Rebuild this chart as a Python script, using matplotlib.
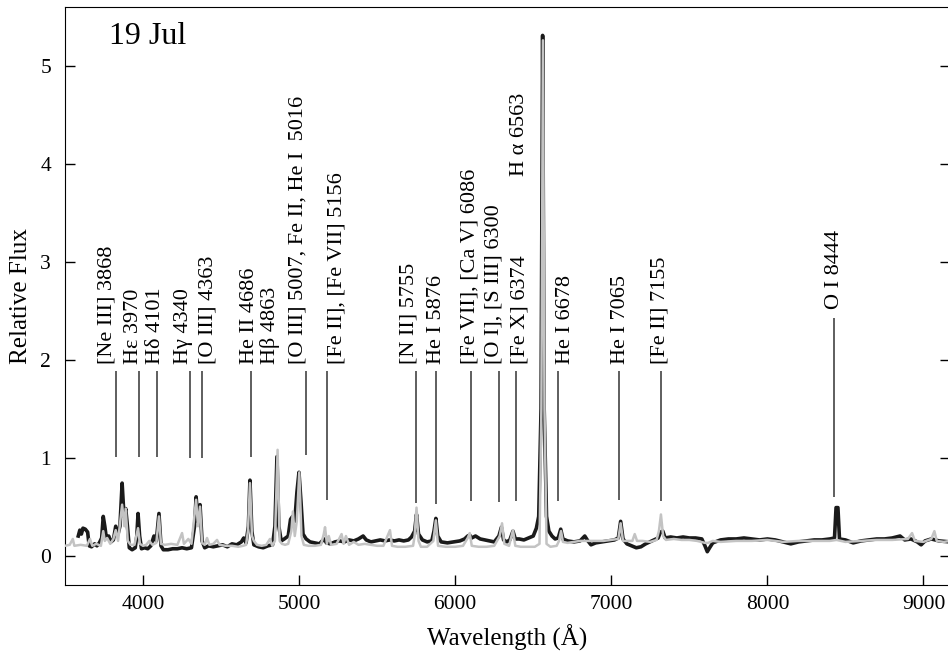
import numpy as np
from matplotlib import pyplot as plt

plt.rcParams['font.family'] = ['Liberation Serif', 'DejaVu Serif']

# black spectrum (wavelength in A, relative flux)
wl_black = [3585, 3595, 3605, 3615, 3630, 3645, 3655, 3670, 3690, 3705, 3720, 3735, 3745, 3755,
            3765, 3780, 3795, 3810, 3825, 3840, 3852, 3866, 3878, 3889, 3900, 3912, 3930, 3950,
            3960, 3968, 3978, 3990, 4010, 4030, 4050, 4070, 4085, 4102, 4115, 4130, 4160, 4190,
            4220, 4250, 4280, 4310, 4330, 4340, 4352, 4365, 4378, 4395, 4420, 4450, 4480, 4510,
            4540, 4570, 4600, 4630, 4645, 4660, 4675, 4685, 4697, 4710, 4740, 4770, 4800, 4830,
            4845, 4858, 4870, 4885, 4905, 4930, 4945, 4958, 4972, 4986, 4999, 5012, 5025, 5045,
            5070, 5100, 5130, 5160, 5175, 5200, 5230, 5260, 5290, 5320, 5350, 5380, 5410, 5430,
            5460, 5490, 5520, 5550, 5580, 5610, 5640, 5670, 5700, 5720, 5740, 5752, 5765, 5790,
            5820, 5850, 5864, 5876, 5888, 5910, 5950, 5990, 6030, 6060, 6080, 6093, 6105, 6130,
            6160, 6190, 6220, 6250, 6280, 6296, 6310, 6330, 6350, 6370, 6385, 6410, 6440, 6470,
            6500, 6520, 6535, 6550, 6560, 6570, 6585, 6600, 6620, 6640, 6660, 6676, 6690, 6720,
            6760, 6800, 6830, 6850, 6870, 6900, 6940, 6980, 7020, 7045, 7060, 7075, 7100, 7130,
            7160, 7190, 7220, 7260, 7300, 7315, 7330, 7345, 7380, 7420, 7460, 7500, 7540, 7580,
            7600, 7615, 7630, 7650, 7700, 7750, 7800, 7850, 7900, 7950, 8000, 8050, 8100, 8150,
            8200, 8250, 8300, 8350, 8400, 8430, 8440, 8452, 8462, 8500, 8550, 8600, 8650, 8700,
            8750, 8800, 8850, 8880, 8920, 8960, 8985, 9010, 9050, 9100, 9170]
flux_black = [0.20, 0.26, 0.22, 0.28, 0.27, 0.24, 0.10, 0.09, 0.12, 0.10, 0.13, 0.18, 0.40, 0.30,
              0.18, 0.20, 0.14, 0.16, 0.30, 0.22, 0.30, 0.74, 0.40, 0.48, 0.30, 0.08, 0.06, 0.08,
              0.20, 0.43, 0.20, 0.07, 0.08, 0.07, 0.10, 0.20, 0.15, 0.43, 0.10, 0.06, 0.06, 0.07,
              0.07, 0.08, 0.07, 0.08, 0.30, 0.60, 0.35, 0.52, 0.15, 0.08, 0.10, 0.09, 0.10, 0.11,
              0.09, 0.12, 0.11, 0.14, 0.18, 0.13, 0.30, 0.77, 0.25, 0.11, 0.09, 0.08, 0.10, 0.11,
              0.30, 1.01, 0.30, 0.15, 0.17, 0.20, 0.37, 0.40, 0.35, 0.65, 0.85, 0.55, 0.22, 0.17,
              0.14, 0.13, 0.12, 0.17, 0.13, 0.12, 0.14, 0.15, 0.14, 0.16, 0.15, 0.17, 0.20, 0.16,
              0.14, 0.15, 0.16, 0.15, 0.16, 0.15, 0.16, 0.15, 0.16, 0.19, 0.25, 0.42, 0.22, 0.16,
              0.14, 0.15, 0.25, 0.38, 0.20, 0.14, 0.13, 0.14, 0.15, 0.17, 0.20, 0.21, 0.18, 0.20,
              0.17, 0.16, 0.15, 0.14, 0.20, 0.29, 0.16, 0.14, 0.16, 0.25, 0.17, 0.17, 0.16, 0.18,
              0.20, 0.28, 0.40, 1.50, 5.31, 1.50, 0.40, 0.25, 0.20, 0.17, 0.18, 0.27, 0.17, 0.15,
              0.14, 0.15, 0.20, 0.15, 0.11, 0.13, 0.14, 0.15, 0.16, 0.18, 0.35, 0.17, 0.12, 0.10,
              0.08, 0.09, 0.12, 0.15, 0.18, 0.24, 0.25, 0.18, 0.19, 0.18, 0.19, 0.18, 0.18, 0.17,
              0.10, 0.04, 0.08, 0.13, 0.16, 0.17, 0.17, 0.18, 0.17, 0.16, 0.17, 0.16, 0.14, 0.12,
              0.14, 0.15, 0.16, 0.16, 0.17, 0.18, 0.49, 0.49, 0.17, 0.16, 0.13, 0.15, 0.16, 0.17,
              0.17, 0.18, 0.20, 0.16, 0.17, 0.14, 0.11, 0.15, 0.17, 0.15, 0.14]

# grey spectrum
wl_grey = [3500, 3530, 3550, 3560, 3600, 3640, 3660, 3675, 3700, 3730, 3745, 3755, 3770, 3790,
           3810, 3825, 3840, 3866, 3880, 3889, 3902, 3920, 3945, 3968, 3980, 4000, 4020, 4040,
           4060, 4085, 4102, 4115, 4140, 4180, 4220, 4250, 4262, 4290, 4310, 4340, 4352, 4365,
           4378, 4395, 4410, 4425, 4450, 4474, 4490, 4530, 4570, 4610, 4640, 4660, 4672, 4685,
           4698, 4710, 4730, 4760, 4790, 4813, 4828, 4845, 4862, 4875, 4890, 4910, 4930, 4950,
           4960, 4972, 4985, 5001, 5015, 5030, 5060, 5100, 5140, 5158, 5166, 5178, 5190, 5205,
           5240, 5272, 5285, 5300, 5320, 5350, 5380, 5420, 5460, 5500, 5540, 5582, 5595, 5630,
           5680, 5730, 5740, 5752, 5765, 5780, 5820, 5860, 5876, 5890, 5940, 6000, 6050, 6080,
           6093, 6106, 6150, 6200, 6250, 6285, 6300, 6315, 6345, 6370, 6385, 6420, 6470, 6510,
           6540, 6552, 6562, 6572, 6585, 6610, 6650, 6665, 6678, 6690, 6720, 6760, 6800, 6850,
           6900, 6950, 7000, 7045, 7060, 7075, 7100, 7135, 7150, 7165, 7200, 7250, 7290, 7305,
           7318, 7332, 7350, 7400, 7450, 7500, 7550, 7600, 7620, 7650, 7700, 7800, 7900, 8000,
           8100, 8200, 8300, 8400, 8443, 8500, 8600, 8700, 8800, 8900, 8927, 8945, 9000, 9050,
           9070, 9085, 9130, 9170]
flux_grey = [0.10, 0.11, 0.17, 0.10, 0.11, 0.10, 0.17, 0.10, 0.12, 0.10, 0.25, 0.15, 0.18, 0.12,
             0.17, 0.26, 0.15, 0.52, 0.30, 0.48, 0.15, 0.11, 0.11, 0.28, 0.12, 0.10, 0.11, 0.15,
             0.11, 0.13, 0.40, 0.12, 0.11, 0.12, 0.11, 0.23, 0.12, 0.17, 0.12, 0.57, 0.30, 0.50,
             0.13, 0.11, 0.18, 0.11, 0.12, 0.16, 0.11, 0.10, 0.10, 0.09, 0.10, 0.11, 0.25, 0.74,
             0.20, 0.15, 0.11, 0.10, 0.11, 0.17, 0.10, 0.15, 1.08, 0.15, 0.12, 0.11, 0.12, 0.25,
             0.45, 0.20, 0.35, 0.85, 0.20, 0.11, 0.10, 0.10, 0.11, 0.22, 0.29, 0.12, 0.20, 0.11,
             0.12, 0.22, 0.12, 0.20, 0.11, 0.14, 0.11, 0.12, 0.11, 0.10, 0.10, 0.26, 0.10, 0.09,
             0.09, 0.10, 0.20, 0.49, 0.15, 0.09, 0.09, 0.15, 0.36, 0.10, 0.09, 0.09, 0.10, 0.18,
             0.23, 0.10, 0.09, 0.09, 0.10, 0.20, 0.33, 0.12, 0.10, 0.26, 0.10, 0.09, 0.09, 0.09,
             0.12, 1.50, 5.26, 1.50, 0.12, 0.09, 0.10, 0.15, 0.25, 0.14, 0.13, 0.14, 0.15, 0.15,
             0.15, 0.15, 0.16, 0.17, 0.33, 0.15, 0.15, 0.15, 0.22, 0.15, 0.15, 0.14, 0.16, 0.25,
             0.42, 0.20, 0.16, 0.17, 0.16, 0.16, 0.15, 0.13, 0.13, 0.15, 0.14, 0.15, 0.15, 0.16,
             0.14, 0.15, 0.15, 0.15, 0.16, 0.14, 0.15, 0.16, 0.16, 0.17, 0.23, 0.15, 0.14, 0.17,
             0.25, 0.15, 0.14, 0.15]

# line identifications: label, label wavelength, label base
line_labels = ['[Ne III] 3868', 'H\u03b5 3970', 'H\u03b4 4101', 'H\u03b3 4340',
               '[O III] 4363', 'He II 4686', 'H\u03b2 4863',
               '[O III] 5007, Fe II, He I  5016', '[Fe II], [Fe VII] 5156',
               '[N II] 5755', 'He I 5876', '[Fe VII], [Ca V] 6086', '[O I], [S III] 6300',
               '[Fe X] 6374', 'H \u03b1 6563', 'He I 6678', 'He I 7065', '[Fe II] 7155',
               'O I 8444']
label_x = [3770, 3942, 4077, 4262, 4416, 4679, 4813, 4992, 5242, 5703, 5882, 6093, 6247,
           6414, 6414, 6708, 7060, 7310, 8430]
label_y = [1.96, 1.96, 1.96, 1.96, 1.96, 1.96, 1.96, 1.96, 1.96, 1.96, 1.96, 1.96, 1.96,
           1.96, 3.87, 1.96, 1.96, 1.96, 2.52]
# marker ticks under the labels
mark_x = [3827, 3974, 4090, 4301, 4378, 4691, 5044, 5178, 5748, 5876, 6100, 6279, 6388,
          6657, 7047, 7316, 8430]
mark_top = [1.88] * 16 + [2.43]
mark_bottom = [1.01, 1.01, 1.01, 1.00, 1.00, 1.01, 1.03, 0.57, 0.54, 0.53, 0.56, 0.55, 0.56,
               0.56, 0.57, 0.56, 0.60]

fig = plt.figure(figsize=(9.48, 6.54), dpi=100)
ax = fig.add_axes([65 / 948, 69 / 654, 885 / 948, 578 / 654])

ax.plot(wl_black, flux_black, color='#1a1a1a', lw=2.6, zorder=2)
ax.plot(wl_grey, flux_grey, color='#c3c3c3', lw=1.8, zorder=3)

ax.vlines(mark_x, mark_bottom, mark_top, color='#333333', lw=1.1)
for lab, x, y in zip(line_labels, label_x, label_y):
    ax.text(x, y, lab, rotation=90, ha='center', va='bottom', fontsize=16)

ax.text(3785, 5.3, '19 Jul', fontsize=23, ha='left', va='center')

ax.set_xlim(3500, 9170)
ax.set_ylim(-0.3, 5.6)
ax.set_xticks([4000, 5000, 6000, 7000, 8000, 9000])
ax.set_yticks([0, 1, 2, 3, 4, 5])
ax.tick_params(direction='in', length=7, width=1, labelsize=15.5, right=True)
ax.tick_params(axis='x', pad=7)
ax.tick_params(axis='y', pad=10)
ax.set_xlabel('Wavelength (\u00c5)', fontsize=18, labelpad=8)
ax.set_ylabel('Relative Flux', fontsize=18, labelpad=6)

plt.savefig('out.png', dpi=100)
plt.close()
